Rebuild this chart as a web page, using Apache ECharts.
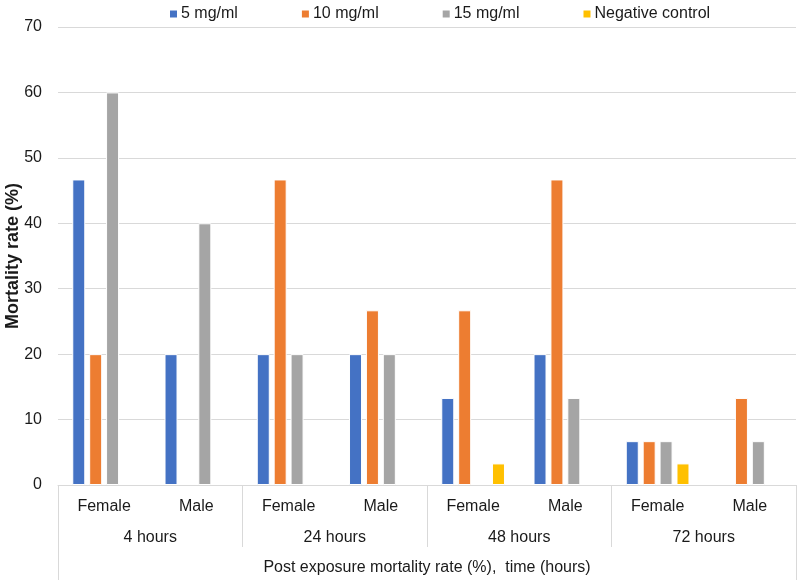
<!DOCTYPE html>
<html>
<head>
<meta charset="utf-8">
<script src="https://cdn.jsdelivr.net/npm/echarts@6/dist/echarts.min.js"></script>
<style>html,body{margin:0;padding:0;background:#fff}#c{width:797px;height:580px}</style>
</head>
<body>
<div id="c"></div>
<script>
const sexLabels = ['Female','Male','Female','Male','Female','Male','Female','Male'];
const timeLabels = ['4 hours','24 hours','48 hours','72 hours'];
const xTitle = ['Post exposure mortality rate (%),  time (hours)'];
const yTicks = [0,10,20,30,40,50,60,70];
const seriesNames = ['5 mg/ml','10 mg/ml','15 mg/ml','Negative control'];
const mg5 = [46.7, 20, 20, 20, 13.3, 20, 6.7, 0];
const mg10 = [20, 0, 46.7, 26.7, 26.7, 46.7, 6.7, 13.3];
const mg15 = [60, 40, 20, 20, 0, 13.3, 6.7, 6.7];
const negCtrl = [0, 0, 0, 0, 3.3, 0, 3.3, 0];
const colors = ['#4472C4','#ED7D31','#A5A5A5','#FFC000'];

const font = 'Liberation Sans, Arial, sans-serif';
const grey = '#d9d9d9';
const values = [mg5, mg10, mg15, negCtrl];

const chart = echarts.init(document.getElementById('c'), null, {renderer:'canvas'});
chart.setOption({
  animation:false,
  color: colors,
  textStyle:{fontFamily:font},
  legend:{
    top:1, left:163, icon:'rect', itemWidth:9, itemHeight:9, itemGap:62,
    textStyle:{fontSize:16, color:'#1a1a1a', fontFamily:font, padding:[0,0,0,-2]},
    data: seriesNames
  },
  grid:{left:58, right:1, top:27, bottom:95, containLabel:false, outerBoundsMode:'none'},
  xAxis:[
    {type:'category', data:sexLabels, position:'bottom', z:5,
     axisLine:{show:true, lineStyle:{color:grey, width:1}}, axisTick:{show:false},
     axisLabel:{fontSize:16, color:'#1a1a1a', margin:14, fontFamily:font}},
    {type:'category', data:timeLabels, position:'bottom',
     axisLine:{show:false}, axisTick:{show:true, length:62, lineStyle:{color:grey}},
     axisLabel:{fontSize:16, color:'#1a1a1a', margin:45, fontFamily:font}},
    {type:'category', data:xTitle, position:'bottom',
     axisLine:{show:false}, axisTick:{show:true, length:95, lineStyle:{color:grey}},
     axisLabel:{fontSize:16, color:'#1a1a1a', margin:75, fontFamily:font}}
  ],
  yAxis:{
    type:'value', min:yTicks[0], max:yTicks[yTicks.length-1], interval:10,
    name:'Mortality rate (%)', nameLocation:'middle', nameGap:36, nameMoveOverlap:false,
    nameTextStyle:{fontSize:18, fontWeight:'bold', color:'#1a1a1a', fontFamily:font},
    axisLine:{show:false}, axisTick:{show:false},
    splitLine:{lineStyle:{color:grey, width:1}},
    axisLabel:{fontSize:16, color:'#1a1a1a', margin:16, fontFamily:font}
  },
  series: seriesNames.map((n,i)=>({
    name:n, type:'bar', xAxisIndex:0, data:values[i],
    barWidth:13, barGap:'30%',
    itemStyle:{color:colors[i], borderColor:'#fff', borderWidth:1}
  }))
});
</script>
</body>
</html>
